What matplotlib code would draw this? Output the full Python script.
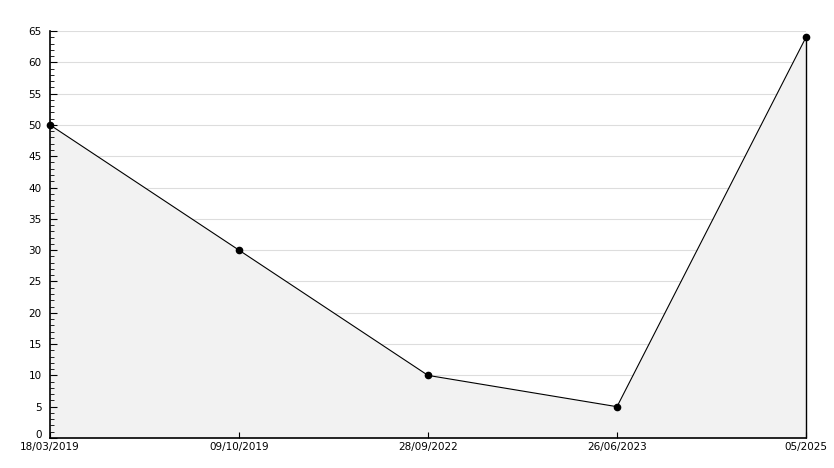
import numpy as np
import matplotlib.pyplot as plt
import matplotlib.transforms as mtransforms
from matplotlib.ticker import MultipleLocator

# chart values
dates = ['18/03/2019', '09/10/2019', '28/09/2022', '26/06/2023', '05/2025']
values = [50, 30, 10, 5, 64]

fig = plt.figure(figsize=(8.34, 4.68), dpi=100)
ax = fig.add_axes([50/834, 30/468, 756/834, 407/468])

x = np.arange(len(dates))
ax.set_xlim(0, len(dates) - 1)
ax.set_ylim(0, 65)
ax.yaxis.set_major_locator(MultipleLocator(5))
ax.yaxis.set_minor_locator(MultipleLocator(1))

# grid under the filled area
for yv in ax.get_yticks():
	if 0 < yv <= 65:
		ax.axhline(yv, color='#dddddd', linewidth=0.8, zorder=0)

ax.fill_between(x, values, 0, color='#f2f2f2', linewidth=0, zorder=1)
ax.plot(x, values, color='black', linewidth=0.8, marker='o', markersize=4.5, zorder=3, clip_on=False)
ax.vlines(x[-1], 0, values[-1], color='black', linewidth=1, zorder=3, clip_on=False)

ax.set_xticks(x)
ax.set_xticklabels(dates)

for s in ['top', 'right']:
	ax.spines[s].set_visible(False)
for s in ['left', 'bottom']:
	ax.spines[s].set_linewidth(1.2)
	ax.spines[s].set_zorder(4)

ax.tick_params(axis='y', which='major', direction='in', length=5, labelsize=7.5, pad=6)
ax.tick_params(axis='y', which='minor', direction='in', length=3)
ax.tick_params(axis='x', direction='in', length=4, labelsize=7.5, pad=3)
ax.xaxis.set_zorder(4)
ax.yaxis.set_zorder(4)

# lift the "0" label a little so it clears the first date
fig.canvas.draw()
for lab in ax.get_yticklabels():
	if lab.get_text() == '0':
		lab.set_transform(lab.get_transform() + mtransforms.ScaledTranslation(0, 3/72, fig.dpi_scale_trans))

fig.savefig('out.png', dpi=100)
